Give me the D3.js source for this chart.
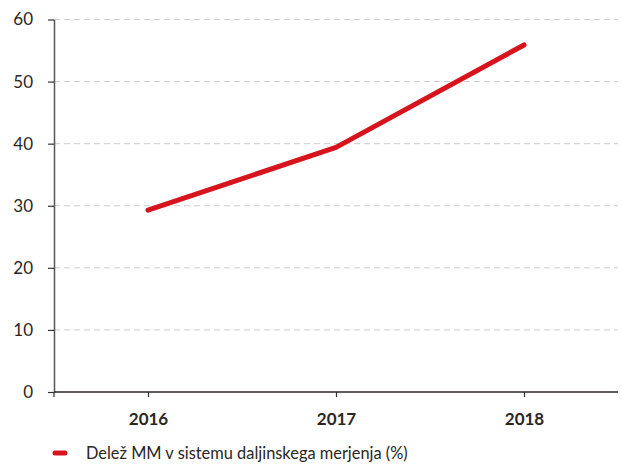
<!DOCTYPE html>
<html><head><meta charset="utf-8">
<script src="https://cdn.jsdelivr.net/npm/d3@7"></script>
<style>body{margin:0;background:#fff}</style>
</head><body>
<script>
const years = ["2016", "2017", "2018"];
const values = [29.3, 39.4, 55.9];
const yTicks = [0, 10, 20, 30, 40, 50, 60];
const seriesName = "Delež MM v sistemu daljinskega merjenja (%)";

const W = 622, H = 464;
const m = {left: 54, right: 4, top: 19.5, bottom: 72};
const svg = d3.select("body").append("svg").attr("width", W).attr("height", H);
const x = d3.scalePoint().domain(years).range([m.left, W - m.right]).padding(0.5);
const y = d3.scaleLinear().domain([0, 60]).range([H - m.bottom, m.top]);
const font = "Lato, 'Source Sans Pro', sans-serif";

// grid
svg.append("g").selectAll("line").data(yTicks.filter(d => d > 0)).join("line")
  .attr("x1", m.left).attr("x2", W - m.right)
  .attr("y1", d => y(d)).attr("y2", d => y(d))
  .attr("stroke", "#cccccc").attr("stroke-width", 1).attr("stroke-dasharray", "6,4");

// y axis
const ya = svg.append("g").attr("transform", `translate(${m.left},0)`)
  .call(d3.axisLeft(y).tickValues(yTicks).tickSize(6).tickPadding(15).tickSizeOuter(0));
ya.select(".domain").attr("stroke", "#5a5550").attr("stroke-width", 1.5);
ya.selectAll(".tick line").attr("stroke", "#333").attr("stroke-width", 1.2);
ya.selectAll("text").attr("font-family", font).attr("font-size", 17).attr("fill", "#2b2622");

// x axis
const xa = svg.append("g").attr("transform", `translate(0,${y(0)})`)
  .call(d3.axisBottom(x).tickSize(5).tickPadding(16).tickSizeOuter(0));
xa.select(".domain").attr("stroke", "#2b2622").attr("stroke-width", 1.5)
  .attr("d", `M${m.left},0H${W - m.right}`);
xa.selectAll(".tick line").attr("stroke", "#333").attr("stroke-width", 1.2);
xa.selectAll("text").attr("font-family", font).attr("font-size", 17).attr("font-weight", "bold").attr("fill", "#2b2622");
svg.append("line").attr("x1", m.left).attr("x2", m.left).attr("y1", y(0)).attr("y2", y(0) + 5)
  .attr("stroke", "#333").attr("stroke-width", 1.2);

// line
const data = years.map((yr, i) => ({yr, v: values[i]}));
svg.append("path").datum(data)
  .attr("fill", "none").attr("stroke", "#d7141c").attr("stroke-width", 5)
  .attr("stroke-linecap", "round").attr("stroke-linejoin", "round")
  .attr("d", d3.line().x(d => x(d.yr)).y(d => y(d.v)));

// legend
const lg = svg.append("g").attr("transform", `translate(55,453)`);
lg.append("line").attr("x1", 0).attr("x2", 10).attr("y1", 0).attr("y2", 0)
  .attr("stroke", "#d7141c").attr("stroke-width", 5).attr("stroke-linecap", "round");
lg.append("text").attr("x", 31).attr("y", 5.5).attr("font-family", font).attr("font-size", 16.4)
  .attr("fill", "#2b2622").text(seriesName);
</script>
</body></html>
